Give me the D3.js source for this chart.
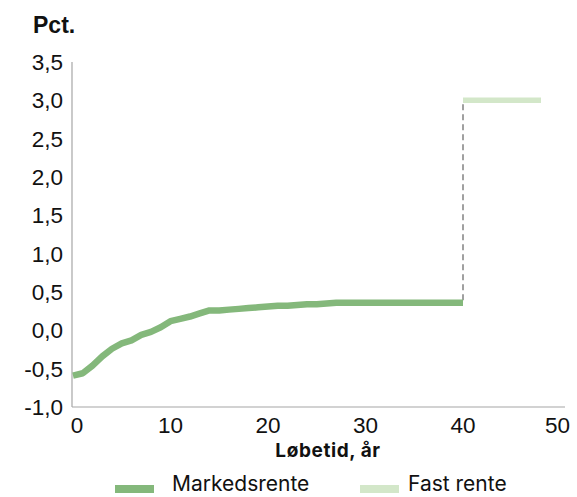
<!DOCTYPE html>
<html><head><meta charset="utf-8">
<script src="https://cdn.jsdelivr.net/npm/d3@7/dist/d3.min.js"></script>
<style>body{margin:0;background:#fff}svg{display:block}</style>
</head><body><svg id="c" width="577" height="497"></svg>
<script>
const years = d3.range(0, 41);
const markedsrente = [-0.59,-0.56,-0.46,-0.34,-0.24,-0.17,-0.13,-0.06,-0.02,0.04,
  0.12,0.15,0.18,0.22,0.26,0.26,0.27,0.28,0.29,0.30,
  0.31,0.32,0.32,0.33,0.34,0.34,0.35,0.36,0.36,0.36,
  0.36,0.36,0.36,0.36,0.36,0.36,0.36,0.36,0.36,0.36,0.36];
const fastYears = [40, 48];
const fastRente = [3.0, 3.0];
const yTicks = [-1.0,-0.5,0,0.5,1.0,1.5,2.0,2.5,3.0,3.5];
const xTicks = [0,10,20,30,40,50];
const seriesNames = ["Markedsrente","Fast rente"];
const colors = ["#84b87b","#d3e7c9"];

const svg = d3.select("#c");
const x = d3.scaleLinear().domain([0,50]).range([73,560.5]);
const y = d3.scaleLinear().domain([-1,3.5]).range([407,62]);
const fmt = d => d3.format(".1f")(d).replace(".", ",").replace("−","-");

svg.append("line").attr("x1",72).attr("x2",72).attr("y1",62).attr("y2",407)
  .attr("stroke","#a6a6a6").attr("stroke-width",1.2);
svg.append("line").attr("x1",72).attr("x2",565).attr("y1",407).attr("y2",407)
  .attr("stroke","#a6a6a6").attr("stroke-width",1.2);

svg.append("g").selectAll("text").data(yTicks).join("text")
  .attr("x",63).attr("y",d=>y(d)).attr("dy","0.36em").attr("text-anchor","end")
  .attr("font-family","Liberation Sans, Arial, sans-serif").attr("font-size",22.5)
  .attr("fill","#111").text(fmt);

svg.append("g").selectAll("text").data(xTicks).join("text")
  .attr("x",d=>x(d)+(d===0?4:d===50?-3:0)).attr("y",433).attr("text-anchor","middle")
  .attr("font-family","Liberation Sans, Arial, sans-serif").attr("font-size",22.5)
  .attr("fill","#111").text(d=>d);

svg.append("text").attr("x",33).attr("y",33)
  .attr("font-family","Liberation Sans, Arial, sans-serif").attr("font-size",23)
  .attr("font-weight","bold").attr("fill","#111").text("Pct.");

svg.append("text").attr("x",328).attr("y",457).attr("text-anchor","middle")
  .attr("font-family","Inter, sans-serif").attr("font-size",19)
  .attr("letter-spacing",0.6)
  .attr("font-weight","bold").attr("fill","#111").text("Løbetid, år");

svg.append("line").attr("x1",x(40)).attr("x2",x(40))
  .attr("y1",y(fastRente[0])+4).attr("y2",y(markedsrente[40]))
  .attr("stroke","#a0a0a0").attr("stroke-width",2).attr("stroke-dasharray","6,4");

const line = d3.line().x(d=>x(d[0])).y(d=>y(d[1]));
svg.append("path").datum(years.map((t,i)=>[t,markedsrente[i]]))
  .attr("d",line).attr("fill","none").attr("stroke",colors[0])
  .attr("stroke-width",6.5).attr("stroke-linejoin","round");
svg.append("path").datum(fastYears.map((t,i)=>[t,fastRente[i]]))
  .attr("d",line).attr("fill","none").attr("stroke",colors[1])
  .attr("stroke-width",5.5);

const leg = [{sx:115,tx:172},{sx:360,tx:408}];
seriesNames.forEach((n,i)=>{
  svg.append("rect").attr("x",leg[i].sx).attr("y",485).attr("width",39).attr("height",8)
    .attr("fill",colors[i]);
  svg.append("text").attr("x",leg[i].tx).attr("y",491)
    .attr("font-family","Inter, sans-serif").attr("font-size",21)
    .attr("fill","#111").text(n);
});
</script></body></html>
